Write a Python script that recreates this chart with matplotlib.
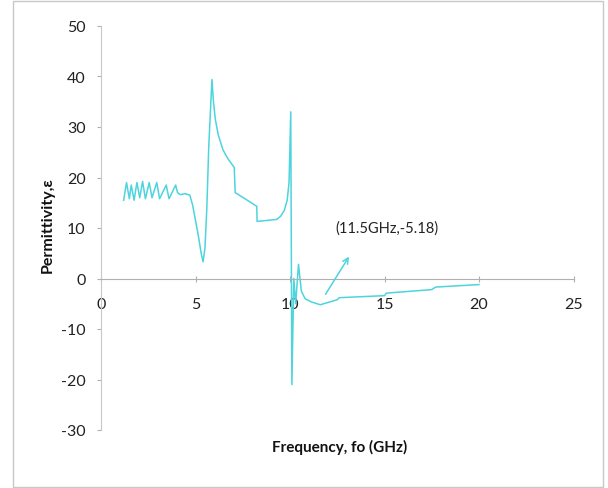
import numpy as np
import matplotlib
matplotlib.use("Agg")
import matplotlib.pyplot as plt
from matplotlib.patches import Rectangle

plt.rcParams['font.family'] = ['Lato', 'DejaVu Sans']
plt.rcParams['axes.unicode_minus'] = False

# frequency (GHz) and permittivity
freq = [1.2, 1.35, 1.5, 1.6, 1.75, 1.9, 2.05, 2.2, 2.35, 2.55, 2.7, 2.95, 3.1,
        3.45, 3.6, 3.95, 4.05, 4.2, 4.45, 4.7, 4.85, 5.0, 5.15, 5.3, 5.4, 5.5,
        5.6, 5.7, 5.87, 5.95, 6.05, 6.2, 6.45, 6.7, 6.95, 7.05, 7.1, 7.7, 8.24,
        8.26, 9.3, 9.5, 9.7, 9.85, 9.95, 10.04, 10.1, 10.2, 10.3, 10.45, 10.6,
        10.8, 11.1, 11.6, 12.5, 12.6, 15.0, 15.1, 17.5, 17.7, 20.0]
perm = [15.5, 19.0, 15.8, 18.5, 15.5, 19.0, 16.0, 19.2, 15.8, 19.0, 16.0, 19.0,
        15.8, 18.5, 15.8, 18.5, 17.0, 16.6, 16.8, 16.5, 14.5, 11.5, 8.5, 5.0,
        3.3, 6.0, 14.0, 26.0, 39.4, 35.0, 31.5, 28.5, 25.5, 23.8, 22.5, 22.0,
        17.0, 15.6, 14.3, 11.3, 11.7, 12.3, 13.5, 15.5, 19.0, 33.0, -21.0, 0.0,
        -5.0, 2.8, -2.5, -4.0, -4.6, -5.2, -4.2, -3.8, -3.4, -2.9, -2.2, -1.7,
        -1.2]

xticks = [0, 5, 10, 15, 20, 25]
yticks = [-30, -20, -10, 0, 10, 20, 30, 40, 50]
note_text = "(11.5GHz,-5.18)"
note_pos = (12.38, 10.1)
arrow_tail = (11.8, -3.6)
arrow_head = (13.2, 4.8)

fig = plt.figure(figsize=(6.08, 4.89), dpi=100)
fig.patches.append(Rectangle((13 / 608, 1 - 488 / 489), 590 / 608, 486 / 489,
                             transform=fig.transFigure, fill=False,
                             edgecolor='#c8c8c8', linewidth=1))

ax = fig.add_axes([101 / 608, 1 - 431 / 489, 472.5 / 608, 404 / 489])
ax.plot(freq, perm, color='#4dd4dc', linewidth=1.1)

ax.set_xlim(0, 25)
ax.set_ylim(-30, 50)
ax.set_xticks(xticks)
ax.set_yticks(yticks)

for s in ['top', 'right']:
    ax.spines[s].set_visible(False)
ax.spines['bottom'].set_position(('data', 0))
ax.spines['bottom'].set_color('#b0b0b0')
ax.spines['left'].set_color('#c8c8c8')
ax.spines['bottom'].set_linewidth(0.8)
ax.spines['left'].set_linewidth(0.8)
ax.tick_params(axis='y', direction='out', length=3, color='#b0b0b0',
               labelsize=11.5, labelcolor='#222222', pad=8)
ax.tick_params(axis='x', direction='inout', length=4, color='#b0b0b0',
               labelsize=11.5, labelcolor='#222222', pad=11)

ax.text(note_pos[0], note_pos[1], note_text, fontsize=10.5, color='#222222',
        ha='left', va='center')
ax.annotate('', xy=arrow_head, xytext=arrow_tail,
            arrowprops=dict(arrowstyle='->', color='#4dd4dc', lw=1.1))

fig.text(48 / 608, 1 - 225 / 489, 'Permittivity,ε', rotation=90, fontsize=11.5,
         fontweight='bold', ha='center', va='center', color='#111111')
fig.text(340 / 608, 1 - 447 / 489, 'Frequency, fo (GHz)', fontsize=11,
         fontweight='bold', ha='center', va='center', color='#111111')

fig.savefig('out.png', dpi=100)
